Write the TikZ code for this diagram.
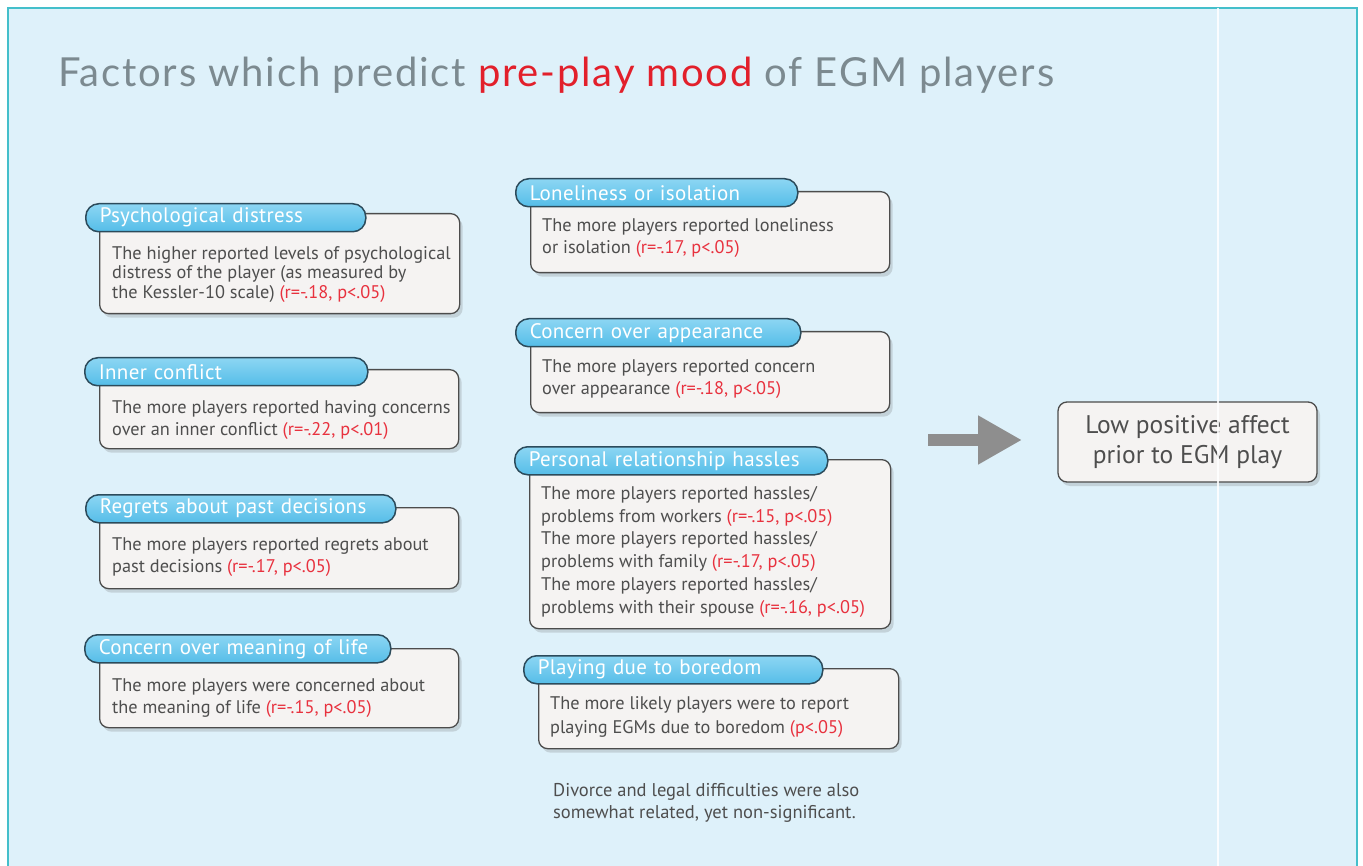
\documentclass[tikz,border=0pt]{standalone}
\usepackage{fontspec}
\setmainfont{PT Sans}
\newfontfamily\headfont[LetterSpace=4.5]{Lato}
\newfontfamily\tabfont[LetterSpace=1.5]{PT Sans}
\usetikzlibrary{shadows,arrows.meta}

\definecolor{bgblue}{HTML}{DEF1FA}
\definecolor{framecol}{HTML}{44BFCB}
\definecolor{headgray}{HTML}{7C8A90}
\definecolor{headred}{HTML}{E2202B}
\definecolor{bodygray}{HTML}{4E4E4E}
\definecolor{statred}{HTML}{E8313E}
\definecolor{tabtop}{HTML}{8DD6F3}
\definecolor{tabbot}{HTML}{55BDE8}
\definecolor{tabline}{HTML}{2C4B5B}
\definecolor{cardfill}{HTML}{F5F3F2}
\definecolor{cardline}{HTML}{4C4C4C}
\definecolor{arrowgray}{HTML}{8E8E8E}

\newcommand\stat[1]{\textcolor{statred}{#1}}

\tikzset{
  card/.style={draw=cardline, line width=1.3pt, rounded corners=9pt, fill=cardfill,
    drop shadow={shadow xshift=3pt, shadow yshift=-4pt, fill=black!60, opacity=0.22},
    anchor=north west, inner sep=0pt},
  tab/.style={draw=tabline, line width=1.5pt, rounded corners=13pt,
    top color=tabtop, bottom color=tabbot, minimum height=28pt, inner ysep=0pt,
    inner xsep=14pt, anchor=north west, align=left, text=white,
    font=\tabfont\fontsize{21}{22}\selectfont},
  cardtext/.style={anchor=north west, inner sep=0pt, align=left, text=bodygray,
    font=\fontsize{18.3}{22.5}\selectfont},
  result/.style={draw=cardline, line width=1.3pt, rounded corners=9pt, fill=cardfill,
    drop shadow={shadow xshift=3pt, shadow yshift=-4pt, fill=black!60, opacity=0.22},
    minimum width=259pt, minimum height=80pt, align=center, text=bodygray,
    font=\fontsize{25.5}{30}\selectfont},
  bigarrow/.style={draw=arrowgray, line width=11pt,
    -{Triangle[length=44pt, width=46pt]}},
}

\begin{document}
\begin{tikzpicture}[x=1pt, y=-1pt]
\useasboundingbox (0,0) rectangle (1363,866);

% panel
\fill[bgblue] (8,8) rectangle (1357,866);
\draw[framecol, line width=2pt] (8,866) -- (8,8) -- (1357,8) -- (1357,866);

% heading
\node[anchor=base west, inner sep=0pt, text=headgray,
      font=\headfont\fontsize{40}{42}\selectfont] (title) at (58,87)
  {Factors which predict \textcolor{headred}{pre-play mood} of EGM players};

% left column
\node[card, minimum width=360pt, minimum height=100pt] (c1) at (99,213) {};
\node[cardtext, font=\fontsize{18.3}{19.5}\selectfont] (c1t) at (112,246)
  {The higher reported levels of psychological\\distress of the player (as measured by\\the Kessler-10 scale) \stat{(r=-.18, p<.05)}};
\node[tab, text width=252pt] (t1) at (85,203) {Psychological distress};

\node[card, minimum width=359pt, minimum height=79pt] (c2) at (99,369) {};
\node[cardtext] (c2t) at (112,400)
  {The more players reported having concerns\\over an inner conflict \stat{(r=-.22, p<.01)}};
\node[tab, text width=255pt] (t2) at (84,357) {Inner conflict};

\node[card, minimum width=359pt, minimum height=81pt] (c3) at (99,507) {};
\node[cardtext] (c3t) at (112,537)
  {The more players reported regrets about\\past decisions \stat{(r=-.17, p<.05)}};
\node[tab, text width=282pt] (t3) at (85,494) {Regrets about past decisions};

\node[card, minimum width=359pt, minimum height=79pt] (c4) at (99,648) {};
\node[cardtext] (c4t) at (112,678)
  {The more players were concerned about\\the meaning of life \stat{(r=-.15, p<.05)}};
\node[tab, text width=278pt] (t4) at (84,634) {Concern over meaning of life};

% middle column
\node[card, minimum width=359pt, minimum height=81pt] (c5) at (530,191) {};
\node[cardtext] (c5t) at (542,218)
  {The more players reported loneliness\\or isolation \stat{(r=-.17, p<.05)}};
\node[tab, text width=254pt] (t5) at (515,178) {Loneliness or isolation};

\node[card, minimum width=359pt, minimum height=81pt] (c6) at (530,331) {};
\node[cardtext] (c6t) at (542,359)
  {The more players reported concern\\over appearance \stat{(r=-.18, p<.05)}};
\node[tab, text width=257pt] (t6) at (515,318) {Concern over appearance};

\node[card, minimum width=361pt, minimum height=169pt] (c7) at (529,459) {};
\node[cardtext, font=\fontsize{18.3}{22.8}\selectfont] (c7t) at (541,486)
  {The more players reported hassles/\\problems from workers \stat{(r=-.15, p<.05)}\\The more players reported hassles/\\problems with family \stat{(r=-.17, p<.05)}\\The more players reported hassles/\\problems with their spouse \stat{(r=-.16, p<.05)}};
\node[tab, text width=285pt] (t7) at (514,446) {Personal relationship hassles};

\node[card, minimum width=360pt, minimum height=80pt] (c8) at (538,668) {};
\node[cardtext, font=\fontsize{18.3}{24}\selectfont] (c8t) at (550,696)
  {The more likely players were to report\\playing EGMs due to boredom \stat{(p<.05)}};
\node[tab, text width=271pt] (t8) at (523,655) {Playing due to boredom};

\node[cardtext, font=\fontsize{18.5}{22}\selectfont] (note) at (553,783)
  {Divorce and legal difficulties were also\\somewhat related, yet non-significant.};

% outcome
\node[result] (res) at (1187.5,442) {Low positive affect\\prior to EGM play};
\coordinate (a0) at (928,440);
\coordinate (a1) at (1022,440);
\draw[bigarrow] (a0) -- (a1);

% thin light seam through the right part of the panel
\draw[white, line width=1.5pt, opacity=0.85] (1218,8) -- (1218,866);
\end{tikzpicture}
\end{document}
